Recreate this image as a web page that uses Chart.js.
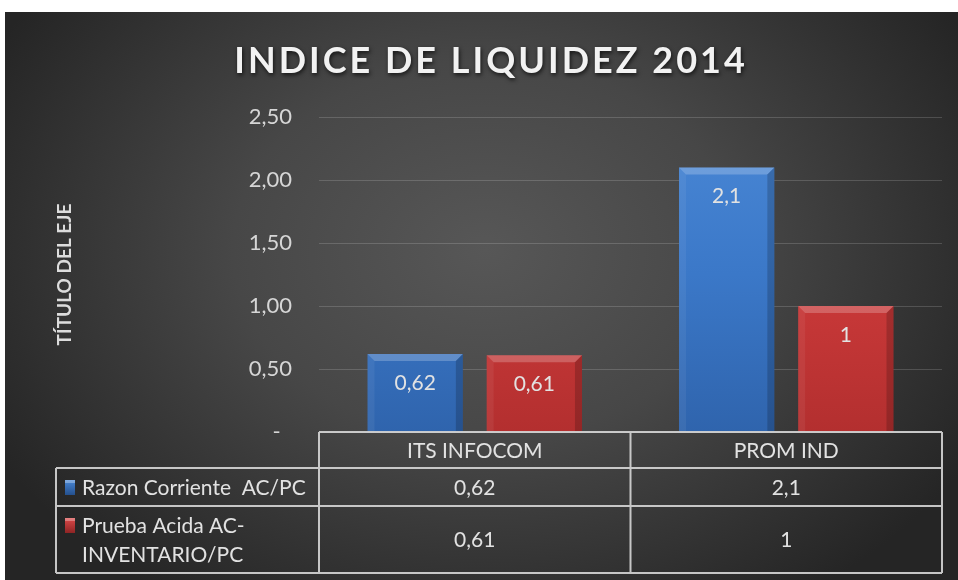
<!DOCTYPE html>
<html>
<head>
<meta charset="utf-8">
<script src="https://cdn.jsdelivr.net/npm/chart.js@4.4.1/dist/chart.umd.min.js"></script>
<style>
html,body{margin:0;padding:0;background:#fff;}
#wrap{width:958px;height:580px;position:relative;}
</style>
</head>
<body>
<div id="wrap"><canvas id="c" width="958" height="580"></canvas></div>
<script>
// ---- data ----
const chartTitle = 'INDICE DE LIQUIDEZ 2014';
const yAxisTitle = 'TÍTULO DEL EJE';
const categories = ['ITS INFOCOM', 'PROM IND'];
const seriesNames = ['Razon Corriente  AC/PC', 'Prueba Acida AC-INVENTARIO/PC'];
const seriesNameLines = [['Razon Corriente  AC/PC'], ['Prueba Acida AC-', 'INVENTARIO/PC']];
const razonCorriente = [0.62, 2.1];
const pruebaAcida = [0.61, 1];
const yTickValues = [0, 0.5, 1, 1.5, 2, 2.5];

const FONT = 'Lato';
const TXT = '#e2e2e2';
const seriesColors = [
  {top:'#4a88d6', mid:'#3b78c8', bot:'#2f64ad', dark:'#24508e'},
  {top:'#dc4a4a', mid:'#cc3a3a', bot:'#b32f2f', dark:'#8e2424'}
];
const fmt = v => String(v).replace('.', ',');

function barFill(i){
  return (ctx) => {
    const chart = ctx.chart; const ca = chart.chartArea;
    if (!ca) return seriesColors[i].mid;
    const g = chart.ctx.createLinearGradient(0, ca.top, 0, ca.bottom);
    g.addColorStop(0, seriesColors[i].top);
    g.addColorStop(0.5, seriesColors[i].mid);
    g.addColorStop(1, seriesColors[i].bot);
    return g;
  };
}

const bgPlugin = {
  id: 'bg',
  beforeDraw(chart){
    const c = chart.ctx;
    c.save();
    c.fillStyle = '#ffffff';
    c.fillRect(0,0,chart.width,chart.height);
    c.save();
    c.beginPath(); c.rect(5,12,chart.width-5,chart.height-12); c.clip();
    c.translate(485, 250);
    c.scale(1, 0.75);
    const g = c.createRadialGradient(0,0,0,0,0,560);
    g.addColorStop(0, '#575757');
    g.addColorStop(0.45, '#474747');
    g.addColorStop(1, '#252525');
    c.fillStyle = g;
    c.fillRect(-600,-700,1200,1400);
    c.restore();
    // main title
    c.font = 'bold 36px ' + FONT;
    c.textAlign = 'center'; c.textBaseline = 'middle';
    try { c.letterSpacing = '3px'; } catch(e) {}
    c.shadowColor = 'rgba(0,0,0,0.7)'; c.shadowBlur = 4; c.shadowOffsetX = 1; c.shadowOffsetY = 2;
    c.fillStyle = '#f2f2f2';
    c.fillText(chartTitle, 491, 61);
    c.restore();
  }
};

const barDecor = {
  id: 'barDecor',
  afterDatasetsDraw(chart){
    const c = chart.ctx;
    chart.data.datasets.forEach((ds, di) => {
      const meta = chart.getDatasetMeta(di);
      meta.data.forEach((bar, i) => {
        const p = bar.getProps(['x','y','width','base'], true);
        const l = p.x - p.width/2, r = p.x + p.width/2, t = p.y, b = p.base;
        const k = 7;
        c.save();
        c.beginPath(); c.moveTo(l,t); c.lineTo(r,t); c.lineTo(r-k,t+k); c.lineTo(l+k,t+k); c.closePath();
        c.fillStyle = 'rgba(255,255,255,0.22)'; c.fill();
        c.beginPath(); c.moveTo(l,t); c.lineTo(l+k,t+k); c.lineTo(l+k,b); c.lineTo(l,b); c.closePath();
        c.fillStyle = 'rgba(255,255,255,0.06)'; c.fill();
        c.beginPath(); c.moveTo(r,t); c.lineTo(r-k,t+k); c.lineTo(r-k,b); c.lineTo(r,b); c.closePath();
        c.fillStyle = 'rgba(0,0,0,0.18)'; c.fill();
        c.font = '21px ' + FONT;
        c.fillStyle = TXT; c.textAlign = 'center'; c.textBaseline = 'middle';
        c.fillText(fmt(ds.data[i]), p.x, t + 29);
        c.restore();
      });
    });
  }
};

const tablePlugin = {
  id: 'dataTable',
  afterDraw(chart){
    const c = chart.ctx;
    const xs = chart.scales.x;
    const ca = chart.chartArea;
    const top = ca.bottom;
    const headerH = 36;
    const rowH = [38, 67];
    const tableLeft = 56;
    const colEdges = [ca.left];
    for (let i = 0; i < categories.length; i++) colEdges.push(xs.getPixelForValue(i + 0.5));
    colEdges[colEdges.length-1] = ca.right;
    const rowTops = [top + headerH];
    rowH.forEach((h, i) => rowTops.push(rowTops[i] + h));
    const bottom = rowTops[rowTops.length-1];
    c.save();
    c.strokeStyle = 'rgba(215,215,215,0.9)';
    c.lineWidth = 2;
    c.beginPath();
    c.moveTo(ca.left, top); c.lineTo(ca.right, top);
    rowTops.forEach((y) => { c.moveTo(tableLeft, y); c.lineTo(ca.right, y); });
    colEdges.forEach((x) => { c.moveTo(x, top); c.lineTo(x, bottom); });
    c.moveTo(tableLeft, rowTops[0]); c.lineTo(tableLeft, bottom);
    c.stroke();
    c.font = '21px ' + FONT;
    c.fillStyle = TXT; c.textBaseline = 'middle'; c.textAlign = 'center';
    categories.forEach((cat, i) => {
      c.fillText(cat, xs.getPixelForValue(i), top + headerH/2 + 1);
    });
    chart.data.datasets.forEach((ds, di) => {
      const yMid = (rowTops[di] + rowTops[di+1]) / 2 + 1;
      c.textAlign = 'center';
      c.fillStyle = TXT;
      ds.data.forEach((v, i) => c.fillText(fmt(v), xs.getPixelForValue(i), yMid));
      const lines = seriesNameLines[di];
      const lh = 29;
      const y0 = yMid - (lines.length - 1) * lh / 2;
      c.textAlign = 'left';
      lines.forEach((ln, li) => c.fillText(ln, 82, y0 + li * lh));
      const g = c.createLinearGradient(0, y0 - 8, 0, y0 + 7);
      g.addColorStop(0, seriesColors[di].top); g.addColorStop(1, seriesColors[di].dark);
      c.fillStyle = g;
      c.fillRect(65, y0 - 8, 10, 15);
      c.fillStyle = 'rgba(255,255,255,0.3)';
      c.fillRect(65, y0 - 8, 10, 3);
      c.fillStyle = TXT;
    });
    c.restore();
  }
};

new Chart(document.getElementById('c'), {
  type: 'bar',
  data: {
    labels: categories,
    datasets: [
      { label: seriesNames[0], data: razonCorriente, backgroundColor: barFill(0), borderWidth: 0, categoryPercentage: 0.765, barPercentage: 0.8 },
      { label: seriesNames[1], data: pruebaAcida, backgroundColor: barFill(1), borderWidth: 0, categoryPercentage: 0.765, barPercentage: 0.8 }
    ]
  },
  options: {
    responsive: false,
    animation: false,
    devicePixelRatio: 1,
    layout: { padding: { left: 36, right: 16, top: 117, bottom: 148 } },
    plugins: { legend: { display: false }, title: { display: false }, tooltip: { enabled: false } },
    scales: {
      x: { display: false },
      y: {
        min: 0, max: 2.5,
        afterFit(scale){ scale.width = 283; },
        afterBuildTicks(scale){ scale.ticks = yTickValues.map(v => ({ value: v })); },
        border: { display: false },
        grid: { color: 'rgba(255,255,255,0.16)', lineWidth: 1, drawTicks: false },
        ticks: {
          padding: 27, color: '#d6d6d6', font: { family: FONT, size: 22 },
          callback: (v) => v === 0 ? '-  ' : v.toFixed(2).replace('.', ',')
        },
        title: { display: true, text: yAxisTitle, color: '#dcdcdc', font: { family: FONT, size: 19, weight: 'bold' }, padding: { top: 17, bottom: 0 } }
      }
    }
  },
  plugins: [bgPlugin, barDecor, tablePlugin]
});
</script>
</body>
</html>
